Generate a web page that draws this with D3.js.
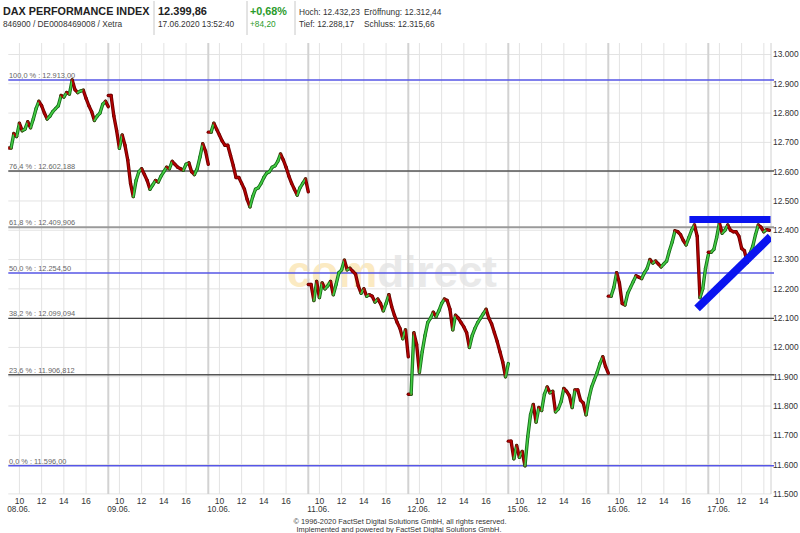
<!DOCTYPE html>
<html><head><meta charset="utf-8">
<script src="https://cdn.jsdelivr.net/npm/d3@7"></script>
<style>html,body{margin:0;padding:0;background:#fff;} svg{display:block;font-family:"Liberation Sans",Arial,sans-serif;}</style>
</head><body><svg id="chart" width="800" height="533"></svg>
<script>
// ---------- DATA ----------
const dayLabels = ["08.06.", "09.06.", "10.06.", "11.06.", "12.06.", "15.06.", "16.06.", "17.06."];
const hourTicks = [10, 12, 14, 16];
const yTicks = [11500, 11600, 11700, 11800, 11900, 12000, 12100, 12200, 12300, 12400, 12500, 12600, 12700, 12800, 12900, 13000];
// 15-minute closes from 09:00 for each trading day
const c0806 = [12681,12730,12720,12765,12740,12745,12770,12750,12780,12815,12840,12825,12800,12780,12790,12805,12815,12825,12860,12855,12870,12865,12913,12880,12870,12875,12878,12850,12825,12805,12775,12790,12800,12830,12840,12822];
const c0906 = [12860,12790,12740,12680,12725,12690,12640,12560,12515,12570,12600,12610,12590,12570,12540,12555,12570,12565,12585,12600,12615,12610,12635,12625,12615,12610,12605,12625,12630,12600,12590,12610,12650,12695,12670,12625];
const c1006 = [12735,12765,12745,12725,12705,12690,12690,12655,12620,12580,12580,12560,12540,12505,12480,12515,12540,12545,12560,12580,12595,12600,12615,12620,12635,12660,12640,12615,12585,12560,12540,12520,12545,12560,12575,12531];
const c1106 = [12215,12160,12225,12170,12220,12200,12210,12225,12180,12215,12255,12265,12298,12265,12270,12260,12250,12210,12185,12200,12175,12180,12175,12155,12165,12150,12125,12150,12180,12140,12110,12085,12065,12030,12060,11968];
const c1206 = [11840,12050,12010,11915,11985,12040,12085,12100,12120,12105,12125,12150,12165,12160,12130,12060,12110,12100,12085,12070,12050,12000,12040,12065,12085,12100,12115,12130,12100,12080,12050,12020,11985,11950,11900,11945];
const c1506 = [11680,11620,11665,11625,11645,11596,11695,11770,11805,11745,11795,11785,11840,11865,11845,11850,11780,11790,11815,11860,11850,11835,11795,11855,11855,11820,11810,11770,11825,11865,11890,11915,11945,11968,11935,11912];
const c1606 = [12175,12205,12255,12220,12150,12145,12185,12205,12225,12245,12240,12235,12255,12270,12300,12288,12295,12285,12275,12285,12295,12330,12360,12398,12395,12385,12365,12350,12375,12400,12418,12380,12170,12200,12270,12316];
const c1706 = [12325,12335,12375,12425,12390,12400,12418,12400,12395,12395,12380,12338,12330,12290,12320,12345,12385,12418,12410,12395,12402,12400];
const dayCloses = [c0806, c0906, c1006, c1106, c1206, c1506, c1606, c1706];

const fibPct = ["100,0 %", "76,4 %", "61,8 %", "50,0 %", "38,2 %", "23,6 %", "0,0 %"];
const fibValues = [12913.00, 12602.188, 12409.906, 12254.50, 12099.094, 11906.812, 11596.00];
const fibValueText = ["12.913,00", "12.602,188", "12.409,906", "12.254,50", "12.099,094", "11.906,812", "11.596,00"];

// hand-drawn triangle: [dayIndex, hour, value]
const triTop = [[6, 16.3, 12437], [7, 14.6, 12437]];
const triBase = [[6, 16.99, 12133], [7, 14.6, 12378]];

const header = {
  name: "DAX PERFORMANCE INDEX", ids: "846900 / DE0008469008 / Xetra",
  last: "12.399,86", time: "17.06.2020 13:52:40",
  pct: "+0,68%", abs: "+84,20",
  high: "Hoch: 12.432,23", open: "Eröffnung: 12.312,44",
  low: "Tief: 12.288,17", prev: "Schluss: 12.315,66"
};
const footer = ["© 1996-2020 FactSet Digital Solutions GmbH, all rights reserved.",
                "Implemented and powered by FactSet Digital Solutions GmbH."];

// ---------- SETUP ----------
const SESSION_START = 9, DAY_HOURS = 9, BAR_HOURS = 0.25;
const svg = d3.select("#chart");
const P = {left: 8.3, right: 771, top: 43, bottom: 494};
const x = d3.scaleLinear().domain([0, 7.62]).range([8.3, 770.3]);
const y = d3.scaleLinear().domain([11500, 13000]).range([493.9, 54.5]);
const pos = (d, h) => d + (h - SESSION_START) / DAY_HOURS;
const de = d3.formatLocale({decimal: ",", thousands: ".", grouping: [3], currency: ["", " €"]});
const fmt = de.format(",d");

svg.append("defs").append("clipPath").attr("id", "clip")
  .append("rect").attr("x", P.left).attr("y", P.top).attr("width", P.right - P.left).attr("height", P.bottom - P.top);

// ---------- HEADER ----------
const hd = svg.append("g");
const txt = (g, s, xx, yy, size, opts = {}) => g.append("text").attr("x", xx).attr("y", yy)
  .attr("font-size", size).attr("font-weight", opts.bold ? "bold" : null)
  .attr("fill", opts.fill || "#222").text(s);
txt(hd, header.name, 3, 15, 10.8, {bold: true});
txt(hd, header.ids, 3, 26.7, 8.3, {fill: "#333"});
txt(hd, header.last, 158, 15, 11, {bold: true});
txt(hd, header.time, 158, 26.7, 8.3, {fill: "#333"});
txt(hd, header.pct, 250, 15, 10.8, {bold: true, fill: "#2b9b2b"});
txt(hd, header.abs, 250, 26.7, 8.3, {fill: "#2b9b2b"});
txt(hd, header.high, 299, 15, 8.3, {fill: "#333"});
txt(hd, header.open, 364, 15, 8.3, {fill: "#333"});
txt(hd, header.low, 299, 26.7, 8.3, {fill: "#333"});
txt(hd, header.prev, 364, 26.7, 8.3, {fill: "#333"});
[154, 247, 295].forEach(sx => hd.append("line").attr("x1", sx).attr("x2", sx).attr("y1", 1).attr("y2", 35)
  .attr("stroke", "#c8c8c8").attr("stroke-width", 1));

// ---------- WATERMARK ----------
const wm = svg.append("text").attr("x", 287).attr("y", 287).attr("font-size", 44).attr("font-weight", "bold")
  .attr("textLength", 210).attr("lengthAdjust", "spacingAndGlyphs");
wm.append("tspan").attr("fill", "#fbeac2").text("com");
wm.append("tspan").attr("fill", "#e9e9e9").text("direct");

// ---------- GRID ----------
const grid = svg.append("g");
grid.selectAll(".hg").data(yTicks).join("line")
  .attr("x1", P.left).attr("x2", P.right).attr("y1", d => y(d)).attr("y2", d => y(d))
  .attr("stroke", "#e3e3e3").attr("stroke-width", 1);
const hourLines = [];
dayLabels.forEach((lab, d) => hourTicks.forEach(h => { if (pos(d, h) <= x.domain()[1]) hourLines.push({d, h}); }));
grid.selectAll(".vg").data(hourLines).join("line")
  .attr("x1", t => x(pos(t.d, t.h))).attr("x2", t => x(pos(t.d, t.h)))
  .attr("y1", P.top).attr("y2", P.bottom).attr("stroke", "#e3e3e3").attr("stroke-width", 1);
grid.selectAll(".dg").data(dayLabels.slice(1)).join("line")
  .attr("x1", (d, i) => x(i + 1)).attr("x2", (d, i) => x(i + 1))
  .attr("y1", P.top).attr("y2", P.bottom).attr("stroke", "#d2d2d2").attr("stroke-width", 2);
grid.append("line").attr("x1", P.right).attr("x2", P.right).attr("y1", P.top).attr("y2", P.bottom)
  .attr("stroke", "#d0d0d0");

// ---------- FIB LINES ----------
const fibColor = i => ["#5656e6", "#555", "#9a9a9a", "#5656e6", "#444", "#555", "#5656e6"][i];
const fibWidth = i => [1.5, 1.5, 2, 1.5, 1.3, 1.5, 1.5][i];
const fib = svg.append("g");
fib.selectAll("line").data(fibValues).join("line")
  .attr("x1", P.left).attr("x2", 774).attr("y1", v => y(v)).attr("y2", v => y(v))
  .attr("stroke", (v, i) => fibColor(i)).attr("stroke-width", (v, i) => fibWidth(i));
fib.selectAll("text").data(fibValues).join("text")
  .attr("x", 9).attr("y", v => y(v) - 2.2).attr("font-size", 7.4).attr("fill", "#666")
  .text((v, i) => fibPct[i] + " : " + fibValueText[i]);

// ---------- PRICE BARS (segments open -> close) ----------
const bars = [];
dayCloses.forEach((arr, d) => arr.forEach((c, k) => {
  const o = k > 0 ? arr[k - 1] : c;
  bars.push({d, k, o, c, up: c > o});
}));
const x0 = b => x(pos(b.d, SESSION_START + b.k * BAR_HOURS));
const x1 = b => x(pos(b.d, SESSION_START + (b.k + 1) * BAR_HOURS));
const cg = svg.append("g").attr("clip-path", "url(#clip)");
cg.selectAll(".outl").data(bars).join("line").attr("class", "outl")
  .attr("x1", x0).attr("x2", x1).attr("y1", b => y(b.o)).attr("y2", b => y(b.c))
  .attr("stroke", b => b.up ? "#16701a" : "#6e0000").attr("stroke-width", 3.4).attr("stroke-linecap", "round");
cg.selectAll(".fill").data(bars).join("line").attr("class", "fill")
  .attr("x1", x0).attr("x2", x1).attr("y1", b => y(b.o)).attr("y2", b => y(b.c))
  .attr("stroke", b => b.up ? "#44cc44" : "#b40000").attr("stroke-width", 1.6).attr("stroke-linecap", "round");

// ---------- TRIANGLE ----------
const tri = svg.append("g").attr("clip-path", "url(#clip)");
const line = d3.line().x(p => x(pos(p[0], p[1]))).y(p => y(p[2]));
tri.append("path").attr("d", line(triTop)).attr("stroke", "#0a14f0").attr("stroke-width", 7).attr("fill", "none");
tri.append("path").attr("d", line(triBase)).attr("stroke", "#0a14f0").attr("stroke-width", 8).attr("fill", "none");

// ---------- AXES ----------
const ax = svg.append("g");
ax.selectAll("text").data(yTicks).join("text")
  .attr("x", 773).attr("y", v => y(v)).attr("dy", "0.35em")
  .attr("font-size", 8.4).attr("fill", "#333").text(v => fmt(v));
ax.selectAll(".ht").data(hourLines).join("text")
  .attr("x", t => x(pos(t.d, t.h))).attr("y", 503.5).attr("text-anchor", "middle")
  .attr("font-size", 8.6).attr("fill", "#333").text(t => t.h);
ax.selectAll(".dt").data(dayLabels).join("text")
  .attr("x", (d, i) => x(i) - 1).attr("y", 512).attr("font-size", 8.2).attr("fill", "#333").text(d => d);

// ---------- FOOTER ----------
svg.append("text").attr("x", 400).attr("y", 524).attr("text-anchor", "middle").attr("font-size", 7.4)
  .attr("fill", "#333").attr("textLength", 213).attr("lengthAdjust", "spacingAndGlyphs").text(footer[0]);
svg.append("text").attr("x", 399).attr("y", 531.5).attr("text-anchor", "middle").attr("font-size", 7.4)
  .attr("fill", "#333").attr("textLength", 205).attr("lengthAdjust", "spacingAndGlyphs").text(footer[1]);
</script></body></html>
